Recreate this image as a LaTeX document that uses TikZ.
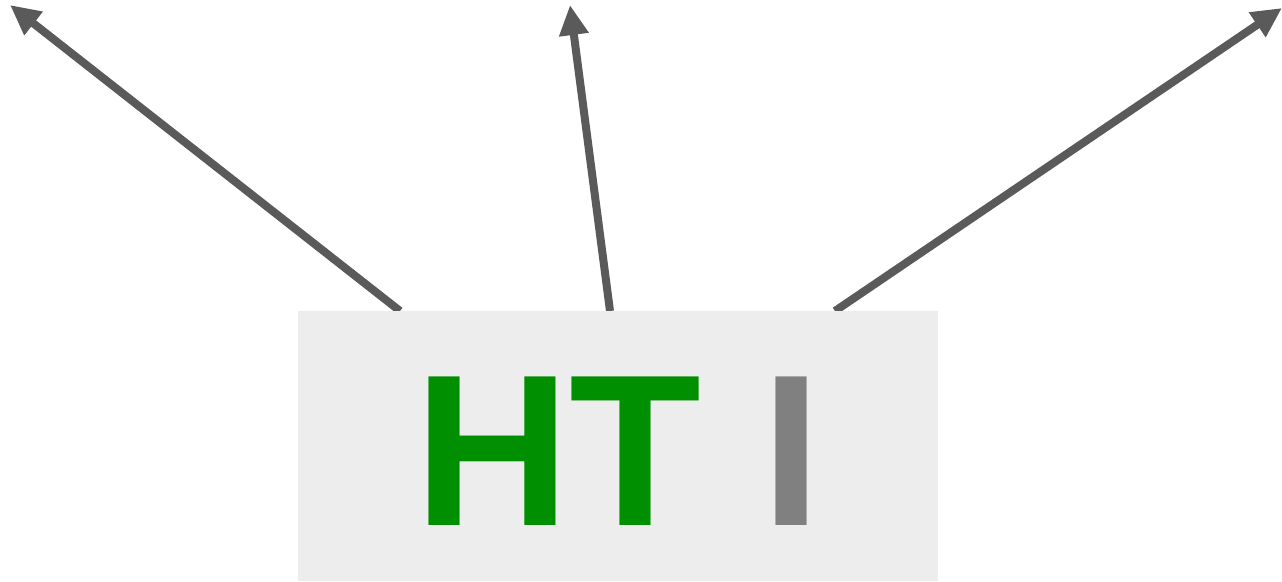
\documentclass[tikz,border=0pt]{standalone}
\usepackage{fontspec}
\setmainfont{Liberation Sans}
\usetikzlibrary{arrows.meta,positioning}
\definecolor{boxgray}{HTML}{EDEDED}
\definecolor{arrgray}{HTML}{5A5A5A}
\definecolor{htgreen}{HTML}{008F00}
\definecolor{igray}{HTML}{808080}

\begin{document}
\begin{tikzpicture}[x=1pt,y=-1pt,
  bx/.style={fill=boxgray,inner sep=0pt,minimum width=640pt,minimum height=270pt,
    font=\bfseries\fontsize{216}{216}\selectfont},
  arr/.style={-{Triangle[length=30pt,width=28pt]},line width=8pt,draw=arrgray}]
  \useasboundingbox (0,0) rectangle (1282,581);
  \coordinate (tl) at (10,5);
  \coordinate (tm) at (570,5);
  \coordinate (tr) at (1282,8);
  \draw[arr]([xshift=-218pt]618,311)--(tl);
  \draw[arr]([xshift=-8pt]618,311)--(tm);
  \draw[arr]([xshift=217pt]618,311)--(tr);
  \node[bx](hti) at (618,446){\raisebox{-5.5pt}[\height][0pt]{\textcolor{htgreen}{HT} \textcolor{igray}{I}}};
\end{tikzpicture}
\end{document}
